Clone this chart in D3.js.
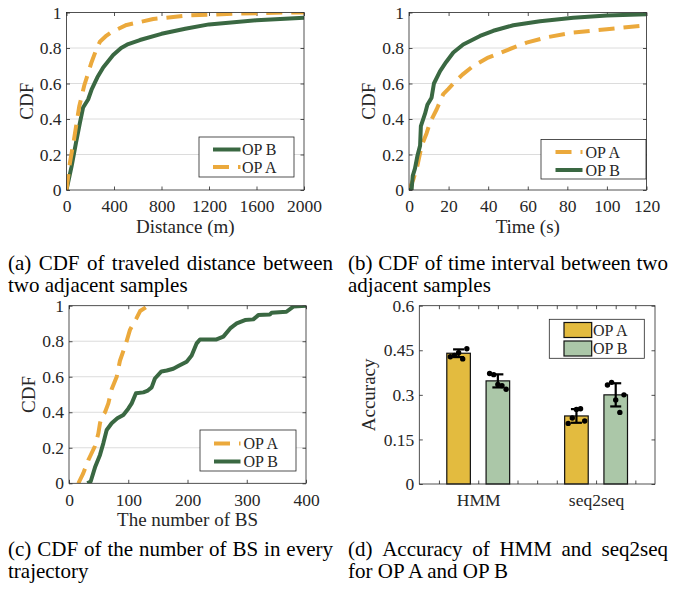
<!DOCTYPE html>
<html>
<head>
<meta charset="utf-8">
<script src="https://cdn.jsdelivr.net/npm/d3@7"></script>
<style>
body { margin: 0; background: #fff; }
svg text { font-family: "Liberation Serif", "Times New Roman", serif; fill: #262626; }
svg text.caption { fill: #000; }
</style>
</head>
<body>
<svg width="674" height="593"></svg>
<script>
// ---- data ----
// (a) CDF of travelled distance [metres, cdf]
const distanceOpB = [[0,0],[42,0.13],[79,0.263],[112,0.375],[140,0.465],[182,0.51],[211,0.565],[260,0.635],[309,0.69],[393,0.76],[460,0.8],[520,0.822],[618,0.845],[800,0.88],[1000,0.908],[1200,0.933],[1600,0.956],[2000,0.97]];
const distanceOpA = [[0,0],[28,0.15],[62,0.28],[107,0.47],[150,0.59],[211,0.72],[250,0.79],[281,0.835],[337,0.87],[379,0.89],[506,0.93],[730,0.963],[1011,0.983],[1404,0.993],[1850,1],[2000,1]];

// (b) CDF of time interval [seconds, cdf]
const timeOpA = [[0,0],[2.2,0.06],[4.2,0.135],[6.4,0.25],[8.9,0.32],[10.6,0.38],[14,0.455],[17.3,0.54],[19.8,0.568],[22.4,0.6],[27,0.65],[32,0.695],[40,0.746],[50,0.79],[59.4,0.83],[69.5,0.86],[83,0.887],[100,0.906],[120,0.928]];
const timeOpB = [[0,0],[1.3,0],[1.9,0.08],[3,0.12],[4.2,0.19],[5.6,0.25],[6,0.36],[8.1,0.43],[9.3,0.48],[11.4,0.52],[12.6,0.6],[15.7,0.67],[18.7,0.72],[22.4,0.775],[27.4,0.82],[35.9,0.868],[42.6,0.897],[52.7,0.928],[66.2,0.951],[83,0.97],[100,0.983],[120,0.99]];

// (c) CDF of number of BS per trajectory [count, cdf]
const bsOpA = [[15.8,0],[24,0.056],[32.6,0.131],[43.9,0.21],[49.5,0.28],[52.3,0.338],[55.2,0.375],[60.8,0.4],[66.4,0.45],[72,0.53],[80.5,0.6],[86,0.69],[96.2,0.788],[103,0.865],[114,0.93],[120,0.97],[131,0.994],[134,1]];
const bsOpB = [[31,0],[36.6,0.01],[43.9,0.09],[52.3,0.16],[57.9,0.225],[63.6,0.3],[72,0.338],[81.6,0.366],[91.7,0.385],[100,0.42],[105.8,0.45],[113,0.507],[125.5,0.512],[132,0.52],[139.5,0.54],[145,0.59],[156,0.63],[165,0.635],[176,0.645],[184.5,0.66],[198.6,0.685],[207,0.72],[215.5,0.788],[221,0.81],[249,0.81],[260.5,0.826],[272,0.872],[283,0.9],[297,0.919],[311,0.923],[319.5,0.947],[339,0.951],[342,0.96],[367,0.966],[378.6,0.995],[400,1]];

// (d) accuracy
const methods = ["HMM", "seq2seq"];
const accOpA = [0.44, 0.229];
const accOpB = [0.347, 0.30];
const errOpA = [0.013, 0.023];
const errOpB = [0.022, 0.039];
const runsOpA = [[0.428,0.433,0.442,0.421,0.455],[0.204,0.222,0.251,0.253,0.212]];
const runsOpB = [[0.372,0.368,0.335,0.331,0.319],[0.333,0.342,0.283,0.241,0.30]];

const cdfTicks = [0, 0.2, 0.4, 0.6, 0.8, 1];
const accTicks = [0, 0.15, 0.3, 0.45, 0.6];

// ---- drawing ----
const svg = d3.select("svg");
const ink = "#262626";
const green = "#3a6842", orange = "#eba93c";
const barA = "#e3bb3f", barB = "#abc7a8";
const fmt = d => String(+d.toFixed(2));
let clipId = 0;

function axes(g, x, y, xTicks, yTicks, xFmt, grid) {
  const [l, r] = x.range(), [b, t] = y.range();
  if (grid) {
    g.append("g").selectAll("line").data(yTicks.slice(1, -1)).enter().append("line")
      .attr("x1", l).attr("x2", r).attr("y1", d => y(d)).attr("y2", d => y(d))
      .attr("stroke", "#dcdcdc").attr("stroke-width", 1);
  }
  const style = a => {
    a.select(".domain").remove();
    a.attr("font-size", 17.5).attr("color", ink);
    a.selectAll(".tick line").attr("stroke-width", 0.8);
  };
  g.append("g").attr("transform", `translate(0,${b})`)
    .call(d3.axisBottom(x).tickValues(xTicks).tickSize(-3.5).tickPadding(10).tickFormat(xFmt)).call(style);
  g.append("g").attr("transform", `translate(0,${t})`)
    .call(d3.axisTop(x).tickValues(xTicks).tickSize(-3.5).tickFormat("")).call(style);
  g.append("g").attr("transform", `translate(${l},0)`)
    .call(d3.axisLeft(y).tickValues(yTicks).tickSize(-3.5).tickPadding(5).tickFormat(fmt)).call(style);
  g.append("g").attr("transform", `translate(${r},0)`)
    .call(d3.axisRight(y).tickValues(yTicks).tickSize(-3.5).tickFormat("")).call(style);
}

function box(g, x, y) {
  const [l, r] = x.range(), [b, t] = y.range();
  g.append("rect").attr("x", l).attr("y", t).attr("width", r - l).attr("height", b - t)
    .attr("fill", "none").attr("stroke", ink).attr("stroke-width", 0.8);
}

function axisLabels(g, x, y, xLabel, yLabel, yOff) {
  const [l, r] = x.range(), [b, t] = y.range();
  if (xLabel) g.append("text").attr("x", (l + r) / 2).attr("y", b + 43)
    .attr("text-anchor", "middle").attr("font-size", 19).text(xLabel);
  g.append("text").attr("transform", `translate(${l - yOff},${(b + t) / 2}) rotate(-90)`)
    .attr("text-anchor", "middle").attr("font-size", 19).text(yLabel);
}

function lineLegend(g, lg, series) {
  g.append("rect").attr("x", lg.x0).attr("y", lg.y0).attr("width", lg.x1 - lg.x0).attr("height", lg.y1 - lg.y0)
    .attr("fill", "#fff").attr("stroke", ink).attr("stroke-width", 0.8);
  series.forEach((s, i) => {
    const cy = lg.rows[i];
    g.append("line").attr("x1", lg.lx0).attr("x2", lg.lx1).attr("y1", cy).attr("y2", cy)
      .attr("stroke", s.color).attr("stroke-width", 4).attr("stroke-dasharray", s.dash);
    g.append("text").attr("x", lg.tx).attr("y", cy + 5.5).attr("font-size", 16).text(s.name);
  });
}

function cdfPanel(p) {
  const g = svg.append("g");
  const x = d3.scaleLinear().domain([0, p.xMax]).range([p.left, p.right]);
  const y = d3.scaleLinear().domain([0, 1]).range([p.bottom, p.top]);
  axes(g, x, y, p.xTicks, cdfTicks, fmt, true);
  const id = "clip" + (clipId++);
  g.append("clipPath").attr("id", id).append("rect")
    .attr("x", p.left).attr("y", p.top).attr("width", p.right - p.left).attr("height", p.bottom - p.top);
  const line = d3.line().x(d => x(d[0])).y(d => y(d[1]));
  p.series.forEach(s => {
    g.append("path").attr("d", line(s.data)).attr("clip-path", `url(#${id})`)
      .attr("fill", "none").attr("stroke", s.color).attr("stroke-width", 4)
      .attr("stroke-linejoin", "round").attr("stroke-dasharray", s.dash);
  });
  box(g, x, y);
  axisLabels(g, x, y, p.xLabel, "CDF", 34);
  lineLegend(g, p.legend, p.series);
}

const dashA = "16,9";

cdfPanel({
  left: 66.5, right: 304, top: 12.5, bottom: 190, xMax: 2000,
  xTicks: d3.range(0, 2001, 400), xLabel: "Distance (m)",
  series: [
    { name: "OP B", data: distanceOpB, color: green, dash: null },
    { name: "OP A", data: distanceOpA, color: orange, dash: dashA }
  ],
  legend: { x0: 199, x1: 294, y0: 137, y1: 177, lx0: 213, lx1: 240.5, tx: 242, rows: [149.5, 167] }
});

cdfPanel({
  left: 409, right: 646.5, top: 12.5, bottom: 190, xMax: 120,
  xTicks: d3.range(0, 121, 20), xLabel: "Time (s)",
  series: [
    { name: "OP A", data: timeOpA, color: orange, dash: dashA },
    { name: "OP B", data: timeOpB, color: green, dash: null }
  ],
  legend: { x0: 541, x1: 646, y0: 139.5, y1: 179, lx0: 555.5, lx1: 582.5, tx: 585.5, rows: [152, 170] }
});

cdfPanel({
  left: 69, right: 306, top: 305.7, bottom: 483.3, xMax: 400,
  xTicks: d3.range(0, 401, 100), xLabel: "The number of BS",
  series: [
    { name: "OP A", data: bsOpA, color: orange, dash: dashA },
    { name: "OP B", data: bsOpB, color: green, dash: null }
  ],
  legend: { x0: 200, x1: 296, y0: 430, y1: 471, lx0: 214, lx1: 240.5, tx: 243.5, rows: [443.5, 461.5] }
});

// (d) bar chart
(function () {
  const g = svg.append("g");
  const x = d3.scaleLinear().domain([0.5, 2.5]).range([419.3, 655]);
  const y = d3.scaleLinear().domain([0, 0.6]).range([484, 305.7]);
  const xTicks = d3.range(1, 12).map(i => 0.5 + i / 6);
  const xFmt = d => Math.abs(d - Math.round(d)) < 1e-6 ? methods[Math.round(d) - 1] : "";
  axes(g, x, y, xTicks, accTicks, xFmt, false);

  const groups = [
    { mean: accOpA, err: errOpA, runs: runsOpA, color: barA, off: -1 / 6 },
    { mean: accOpB, err: errOpB, runs: runsOpB, color: barB, off: 1 / 6 }
  ];
  const bw = 0.2;
  groups.forEach(s => {
    methods.forEach((m, i) => {
      const c = i + 1 + s.off;
      g.append("rect").attr("x", x(c - bw / 2)).attr("width", x(c + bw / 2) - x(c - bw / 2))
        .attr("y", y(s.mean[i])).attr("height", y(0) - y(s.mean[i]))
        .attr("fill", s.color).attr("stroke", "#111").attr("stroke-width", 1.2);
    });
  });
  groups.forEach(s => {
    methods.forEach((m, i) => {
      const cx = x(i + 1 + s.off);
      const lo = y(s.mean[i] - s.err[i]), hi = y(s.mean[i] + s.err[i]);
      const eg = g.append("g").attr("stroke", "#000").attr("stroke-width", 2.2);
      eg.append("line").attr("x1", cx).attr("x2", cx).attr("y1", lo).attr("y2", hi);
      eg.append("line").attr("x1", cx - 5.5).attr("x2", cx + 5.5).attr("y1", lo).attr("y2", lo);
      eg.append("line").attr("x1", cx - 5.5).attr("x2", cx + 5.5).attr("y1", hi).attr("y2", hi);
      s.runs[i].forEach((v, k) => {
        g.append("circle").attr("cx", x(i + 1 + s.off + (k - 2) * 0.035)).attr("cy", y(v))
          .attr("r", 2.7).attr("fill", "#000");
      });
    });
  });
  box(g, x, y);
  axisLabels(g, x, y, null, "Accuracy", 44);

  // legend
  const lg = { x0: 549.3, x1: 644.3, y0: 319.3, y1: 358.3, sx0: 564, sx1: 591.7, tx: 593 };
  g.append("rect").attr("x", lg.x0).attr("y", lg.y0).attr("width", lg.x1 - lg.x0).attr("height", lg.y1 - lg.y0)
    .attr("fill", "#fff").attr("stroke", ink).attr("stroke-width", 0.8);
  [["OP A", barA, 322.5], ["OP B", barB, 341]].forEach(([name, col, top]) => {
    g.append("rect").attr("x", lg.sx0).attr("y", top).attr("width", lg.sx1 - lg.sx0).attr("height", 15)
      .attr("fill", col).attr("stroke", "#111").attr("stroke-width", 1.2);
    g.append("text").attr("x", lg.tx).attr("y", top + 13).attr("font-size", 16).text(name);
  });
})();

// ---- captions (first line justified to the column) ----
function caption(lines, x0, x1, y0) {
  const g = svg.append("g");
  const words = lines[0].split(" ");
  const nodes = words.map(w => g.append("text").attr("class", "caption").attr("font-size", 21).attr("y", y0).text(w));
  const widths = nodes.map(n => n.node().getComputedTextLength());
  const gap = (x1 - x0 - d3.sum(widths)) / (words.length - 1);
  let cx = x0;
  nodes.forEach((n, i) => { n.attr("x", cx); cx += widths[i] + gap; });
  g.append("text").attr("class", "caption").attr("font-size", 21).attr("x", x0).attr("y", y0 + 22).text(lines[1]);
}
caption(["(a) CDF of traveled distance between", "two adjacent samples"], 8, 333, 270);
caption(["(b) CDF of time interval between two", "adjacent samples"], 348, 668, 270);
caption(["(c) CDF of the number of BS in every", "trajectory"], 8, 333, 556);
caption(["(d) Accuracy of HMM and seq2seq", "for OP A and OP B"], 348, 668, 556);
</script>
</body>
</html>
